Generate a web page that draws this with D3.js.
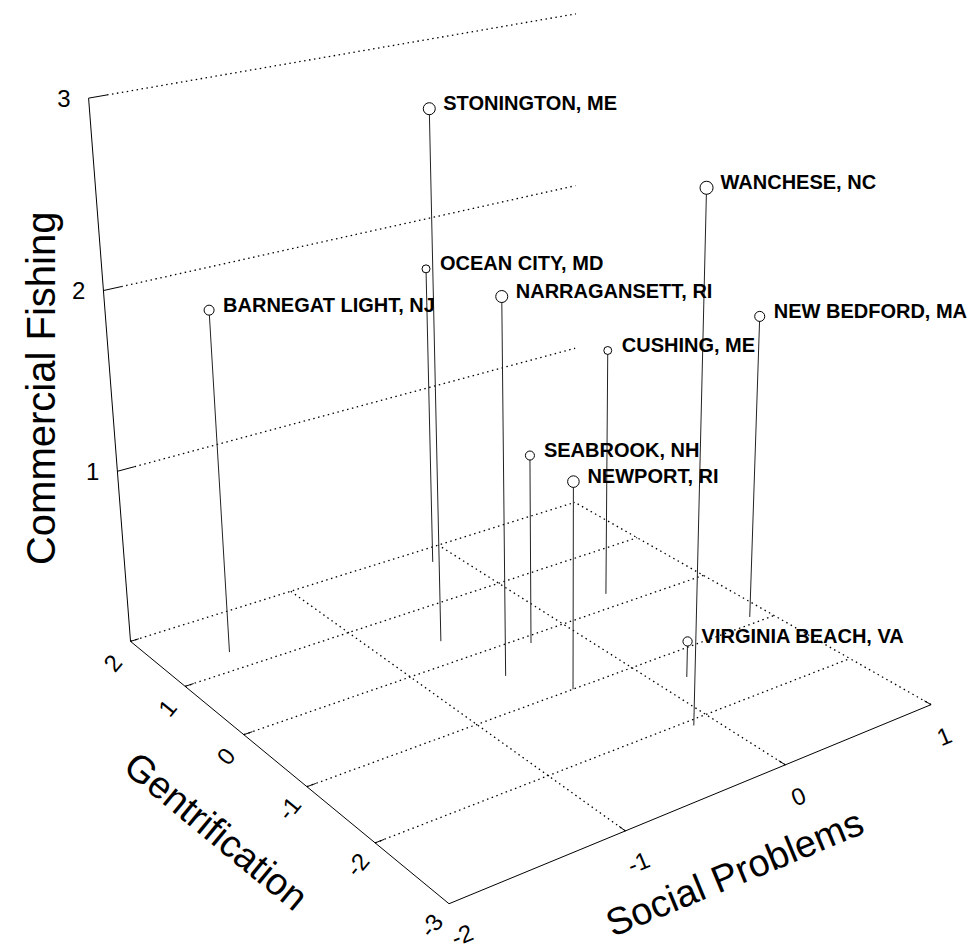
<!DOCTYPE html>
<html><head><meta charset="utf-8">
<script src="https://cdn.jsdelivr.net/npm/d3@7"></script>
<style>body{margin:0;background:#fff}</style>
</head><body><svg width="979" height="952"></svg>
<script>
// fishing communities scored on three factors
const towns = ["STONINGTON, ME","WANCHESE, NC","OCEAN CITY, MD","NARRAGANSETT, RI","BARNEGAT LIGHT, NJ",
  "NEW BEDFORD, MA","CUSHING, ME","SEABROOK, NH","NEWPORT, RI","VIRGINIA BEACH, VA"];
const social         = [-0.65,-0.12,-0.15,-0.59,-1.63, 0.88, 0.41,-0.27,-0.39, 0.17];
const gentrification = [ 0.38,-2.08, 1.73,-0.47, 1.31,-0.89, 0.24,-0.12,-1.00,-1.41];
const fishing        = [ 2.95, 2.83, 1.78, 2.11, 1.94, 1.76, 1.46, 1.10, 1.18, 0.21];
const markerSize     = [ 5.4, 5.5, 4.0, 5.4, 4.6, 4.8, 3.9, 4.3, 5.3, 4.4];
const socialTicks = [-2,-1,0,1];
const gentTicks = [2,1,0,-1,-2,-3];
const fishTicks = [1,2,3];

// perspective camera (world -> screen), homogeneous 3x4
const camera = [
  [169.7976, -47.46360, -16.32821, 562.9999],
  [-24.62999, -20.98751, -181.0840, 624.0203],
  [0.04177406, 0.03393196, -0.02900579, 1]];

function proj(X,Y,Z){
  const c=camera, w=c[2][0]*X+c[2][1]*Y+c[2][2]*Z+c[2][3];
  return [(c[0][0]*X+c[0][1]*Y+c[0][2]*Z+c[0][3])/w,(c[1][0]*X+c[1][1]*Y+c[1][2]*Z+c[1][3])/w,w];
}

const svg = d3.select("svg");
const font = '"Liberation Sans", Arial, sans-serif';
const deg = a => a*180/Math.PI;

function seg(g,a,b,dotted){
  g.append("line").attr("x1",a[0]).attr("y1",a[1]).attr("x2",b[0]).attr("y2",b[1])
    .attr("stroke","#000").attr("stroke-width",dotted?1.3:1).attr("stroke-dasharray",dotted?"1.5,3.5":null);
}

const sMin=d3.min(socialTicks), sMax=d3.max(socialTicks);
const gMin=d3.min(gentTicks), gMax=d3.max(gentTicks);
const zMax=d3.max(fishTicks);

const grid = svg.append("g");
// back wall lines
fishTicks.forEach(z=>{
  seg(grid,proj(sMin+0.1,gMax,z),proj(sMax,gMax,z),true);
  seg(grid,proj(sMin,gMax,z),proj(sMin+0.1,gMax,z),false);
});
// floor grid
gentTicks.filter(g=>g>gMin).forEach(g=>{
  seg(grid,proj(sMin,g,0),proj(sMax,g,0),true);
  seg(grid,proj(sMin,g,0),proj(sMin+0.05,g,0),false);
});
socialTicks.filter(s=>s>sMin).forEach(s=>{
  seg(grid,proj(s,gMin,0),proj(s,gMax,0),true);
  seg(grid,proj(s,gMin,0),proj(s,gMin+0.08,0),false);
});
// axes
seg(grid,proj(sMin,gMax,0),proj(sMin,gMax,zMax),false);
seg(grid,proj(sMin,gMax,0),proj(sMin,gMin,0),false);
seg(grid,proj(sMin,gMin,0),proj(sMax,gMin,0),false);

// tick labels
fishTicks.forEach(z=>{
  const q=proj(sMin,gMax,z);
  svg.append("text").attr("x",q[0]-18).attr("y",q[1]).attr("text-anchor","end")
    .attr("dominant-baseline","central").style("font",`24px ${font}`).text(z);
});
const ga=proj(sMin,gMax,0), gb=proj(sMin,gMin,0), gAng=Math.atan2(gb[1]-ga[1],gb[0]-ga[0]);
const sa=proj(sMin,gMin,0), sb=proj(sMax,gMin,0), sAng=Math.atan2(sb[1]-sa[1],sb[0]-sa[0]);
gentTicks.forEach(g=>{
  const q=proj(sMin,g,0);
  svg.append("text").attr("transform",`translate(${q[0]-28*Math.sin(gAng)},${q[1]+28*Math.cos(gAng)}) rotate(${deg(gAng)-90})`)
    .attr("text-anchor","middle").attr("dominant-baseline","central").style("font",`24px ${font}`).text(g);
});
socialTicks.forEach(s=>{
  const q=proj(s,gMin,0);
  svg.append("text").attr("transform",`translate(${q[0]-34*Math.sin(sAng)},${q[1]+34*Math.cos(sAng)}) rotate(${deg(sAng)})`)
    .attr("text-anchor","middle").attr("dominant-baseline","central").style("font",`24px ${font}`).text(s);
});

// axis titles
const zm=proj(sMin,gMax,zMax/2);
svg.append("text").attr("transform",`translate(${zm[0]-70},${zm[1]+6}) rotate(-90)`)
  .attr("text-anchor","middle").attr("dominant-baseline","central")
  .style("font",`40px ${font}`).text("Commercial Fishing");
const gm=proj(sMin,(gMin+gMax)/2,0);
svg.append("text").attr("transform",`translate(${gm[0]-92*Math.sin(gAng)},${gm[1]+92*Math.cos(gAng)}) rotate(${deg(gAng)})`)
  .attr("text-anchor","middle").attr("dominant-baseline","central")
  .style("font",`38px ${font}`).text("Gentrification");
const sm=proj((sMin+sMax)/2,gMin,0);
svg.append("text").attr("transform",`translate(${sm[0]-82*Math.sin(sAng)-4},${sm[1]+82*Math.cos(sAng)}) rotate(${deg(sAng)})`)
  .attr("text-anchor","middle").attr("dominant-baseline","central")
  .style("font",`38px ${font}`).text("Social Problems");

// drop lines, markers, labels
const pts = towns.map((t,i)=>({
  t,
  top: proj(social[i],gentrification[i],fishing[i]),
  base: proj(social[i],gentrification[i],0),
  size: markerSize[i]
}));
const pg = svg.append("g");
pg.selectAll("line").data(pts).enter().append("line")
  .attr("x1",d=>d.top[0]).attr("y1",d=>d.top[1])
  .attr("x2",d=>d.base[0]).attr("y2",d=>d.base[1])
  .attr("stroke","#222").attr("stroke-width",1);
pg.selectAll("circle").data(pts).enter().append("circle")
  .attr("cx",d=>d.top[0]).attr("cy",d=>d.top[1]).attr("r",d=>d.size/d.top[2])
  .attr("fill","#fff").attr("stroke","#000").attr("stroke-width",1);
pg.selectAll("text").data(pts).enter().append("text")
  .attr("x",d=>d.top[0]+14).attr("y",d=>d.top[1]+1.5)
  .style("font",`bold 20px ${font}`).text(d=>d.t);
</script></body></html>
